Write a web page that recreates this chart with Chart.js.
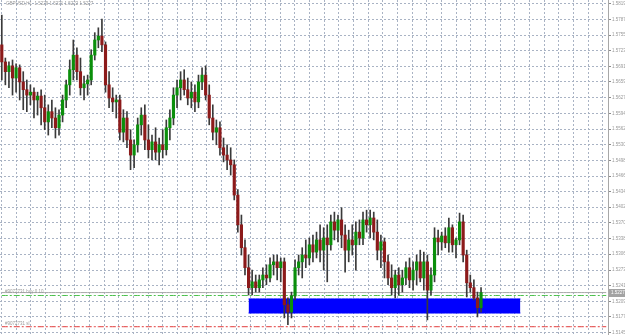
<!DOCTYPE html>
<html lang="en">
<head>
    <meta charset="UTF-8">
    <title>GBPUSD H1</title>
    <script src="https://cdn.jsdelivr.net/npm/chart.js"></script>
    <style>
        body { margin: 0; padding: 0; background: #ffffff; }
        canvas { display: block; }
    </style>
</head>
<body>

<canvas id="myChart" width="625" height="335"></canvas>

<script>
    // Candles (price values)
    const opens = [1.5735,1.5700,1.5680,1.5692,1.5667,1.5688,1.5659,1.5643,1.5632,1.5638,
        1.5622,1.5630,1.5606,1.5577,1.5598,1.5585,1.5565,1.5591,1.5622,1.5653,
        1.5684,1.5714,1.5680,1.5647,1.5655,1.5663,1.5714,1.5745,1.5753,1.5735,
        1.5653,1.5626,1.5618,1.5622,1.5556,1.5585,1.5540,1.5509,1.5530,1.5571,
        1.5591,1.5540,1.5520,1.5536,1.5515,1.5530,1.5520,1.5565,1.5585,1.5632,
        1.5647,1.5663,1.5643,1.5626,1.5638,1.5618,1.5659,1.5673,1.5632,1.5585,
        1.5556,1.5565,1.5524,1.5509,1.5499,1.5489,1.5427,1.5366,1.5319,1.5278,
        1.5237,1.5249,1.5237,1.5253,1.5263,1.5257,1.5284,1.5290,1.5278,1.5290,
        1.5202,1.5187,1.5220,1.5278,1.5290,1.5304,1.5298,1.5325,1.5310,1.5335,
        1.5314,1.5339,1.5325,1.5372,1.5355,1.5376,1.5345,1.5314,1.5335,1.5325,
        1.5351,1.5339,1.5376,1.5366,1.5380,1.5351,1.5314,1.5331,1.5290,1.5257,
        1.5237,1.5263,1.5243,1.5257,1.5278,1.5253,1.5273,1.5290,1.5257,1.5290,
        1.5232,1.5263,1.5339,1.5331,1.5343,1.5329,1.5360,1.5325,1.5335,1.5372,
        1.5304,1.5247,1.5237,1.5216,1.5196];
    const highs = [1.5796,1.5708,1.5700,1.5704,1.5696,1.5694,1.5680,1.5663,1.5653,1.5647,
        1.5638,1.5643,1.5632,1.5612,1.5622,1.5606,1.5602,1.5632,1.5663,1.5704,
        1.5745,1.5729,1.5708,1.5671,1.5673,1.5725,1.5760,1.5770,1.5788,1.5741,
        1.5680,1.5647,1.5632,1.5632,1.5602,1.5598,1.5561,1.5540,1.5585,1.5606,
        1.5612,1.5571,1.5550,1.5565,1.5544,1.5561,1.5581,1.5602,1.5647,1.5663,
        1.5680,1.5684,1.5667,1.5659,1.5653,1.5673,1.5688,1.5692,1.5653,1.5612,
        1.5581,1.5577,1.5544,1.5530,1.5524,1.5499,1.5438,1.5386,1.5335,1.5304,
        1.5273,1.5263,1.5263,1.5278,1.5284,1.5298,1.5304,1.5304,1.5298,1.5298,
        1.5216,1.5228,1.5294,1.5304,1.5319,1.5335,1.5339,1.5345,1.5351,1.5366,
        1.5360,1.5366,1.5386,1.5392,1.5386,1.5401,1.5366,1.5355,1.5366,1.5372,
        1.5376,1.5392,1.5396,1.5396,1.5392,1.5376,1.5345,1.5339,1.5304,1.5284,
        1.5273,1.5278,1.5273,1.5290,1.5298,1.5290,1.5304,1.5314,1.5310,1.5304,
        1.5278,1.5360,1.5355,1.5351,1.5360,1.5380,1.5366,1.5339,1.5390,1.5386,
        1.5314,1.5263,1.5253,1.5228,1.5237];
    const lows = [1.5663,1.5653,1.5647,1.5632,1.5638,1.5622,1.5602,1.5598,1.5612,1.5585,
        1.5591,1.5571,1.5561,1.5550,1.5565,1.5544,1.5550,1.5577,1.5606,1.5632,
        1.5663,1.5663,1.5632,1.5622,1.5632,1.5653,1.5704,1.5729,1.5721,1.5638,
        1.5606,1.5598,1.5585,1.5540,1.5536,1.5524,1.5479,1.5483,1.5515,1.5550,
        1.5520,1.5503,1.5499,1.5499,1.5489,1.5503,1.5509,1.5540,1.5571,1.5606,
        1.5622,1.5632,1.5612,1.5606,1.5598,1.5606,1.5643,1.5622,1.5571,1.5540,
        1.5530,1.5509,1.5495,1.5479,1.5468,1.5417,1.5351,1.5304,1.5263,1.5222,
        1.5222,1.5228,1.5228,1.5237,1.5243,1.5249,1.5263,1.5253,1.5249,1.5175,
        1.5161,1.5175,1.5212,1.5263,1.5257,1.5278,1.5284,1.5290,1.5298,1.5290,
        1.5273,1.5249,1.5314,1.5335,1.5331,1.5319,1.5269,1.5290,1.5304,1.5273,
        1.5325,1.5325,1.5351,1.5339,1.5335,1.5294,1.5278,1.5257,1.5243,1.5222,
        1.5216,1.5222,1.5228,1.5243,1.5237,1.5232,1.5243,1.5249,1.5232,1.5171,
        1.5222,1.5249,1.5304,1.5314,1.5319,1.5310,1.5310,1.5298,1.5325,1.5290,
        1.5218,1.5228,1.5212,1.5177,1.5187];
    const closes = [1.5700,1.5680,1.5692,1.5667,1.5688,1.5659,1.5643,1.5632,1.5638,1.5622,
        1.5630,1.5606,1.5577,1.5598,1.5585,1.5565,1.5591,1.5622,1.5653,1.5684,
        1.5714,1.5680,1.5647,1.5655,1.5663,1.5714,1.5745,1.5753,1.5735,1.5653,
        1.5626,1.5618,1.5622,1.5556,1.5585,1.5540,1.5509,1.5530,1.5571,1.5591,
        1.5540,1.5520,1.5536,1.5515,1.5530,1.5520,1.5565,1.5585,1.5632,1.5647,
        1.5663,1.5643,1.5626,1.5638,1.5618,1.5659,1.5673,1.5632,1.5585,1.5556,
        1.5565,1.5524,1.5509,1.5499,1.5489,1.5427,1.5366,1.5319,1.5278,1.5237,
        1.5249,1.5237,1.5253,1.5263,1.5257,1.5284,1.5290,1.5278,1.5290,1.5202,
        1.5187,1.5220,1.5278,1.5290,1.5304,1.5298,1.5325,1.5310,1.5335,1.5314,
        1.5339,1.5325,1.5372,1.5355,1.5376,1.5345,1.5314,1.5335,1.5325,1.5351,
        1.5339,1.5376,1.5366,1.5380,1.5351,1.5314,1.5331,1.5290,1.5257,1.5237,
        1.5263,1.5243,1.5257,1.5278,1.5253,1.5273,1.5290,1.5257,1.5290,1.5232,
        1.5263,1.5339,1.5331,1.5343,1.5329,1.5360,1.5325,1.5335,1.5372,1.5304,
        1.5247,1.5237,1.5216,1.5196,1.5227];

    // Price axis labels
    const yTicks = [1.5819,1.5787,1.5755,1.5723,1.5691,1.5659,1.5627,1.5594,1.5562,1.5530,1.5498,
        1.5466,1.5434,1.5402,1.5370,1.5338,1.5306,1.5273,1.5241,1.5209,1.5177,1.5145];

    // Order lines and zone
    const bidPrice = 1.5227;
    const orderPrice = 1.5221;
    const stopPrice = 1.5157;
    const orderLabel = '#9072731 buy 0.10';
    const stopLabel = '#9072731 sl';
    const titleText = 'GBPUSD,H1  1.5229 1.5231 1.5222 1.5227';
    const zoneTop = 1.5214;
    const zoneBottom = 1.5185;
    const zoneFrom = 69;   // bar slot where the zone starts
    const zoneTo = 145;    // bar slot where the zone ends

    const SLOTS = 170;     // bar slots incl. the empty shift on the right
    const labels = Array.from({ length: SLOTS }, (_, i) => i);

    const upColor = '#0b8f0b';
    const downColor = '#8c1a1a';
    const gridColor = '#a9b3c4';
    const textColor = '#9a9a9a';
    const font = 'Liberation Sans';

    const bodyColors = opens.map((o, i) => closes[i] >= o ? upColor : downColor);
    const flat = v => labels.map(() => v);
    const zone = v => labels.map(i => (i >= zoneFrom && i <= zoneTo) ? v : null);

    const overlay = {
        id: 'overlay',
        afterDraw(chart) {
            const { ctx, chartArea, scales: { y } } = chart;
            ctx.save();
            ctx.font = '4.5px "' + font + '"';
            ctx.fillStyle = textColor;
            ctx.textBaseline = 'middle';
            ctx.fillText(titleText, 6, 4);
            ctx.textBaseline = 'bottom';
            ctx.fillText(orderLabel, 5, y.getPixelForValue(orderPrice) - 1);
            ctx.fillText(stopLabel, 5, y.getPixelForValue(stopPrice) - 1);

            // current price box on the axis
            const py = Math.round(y.getPixelForValue(bidPrice));
            ctx.fillStyle = '#a3a3a3';
            ctx.fillRect(chartArea.right + 1, py - 4, 17, 8);
            ctx.fillStyle = '#ffffff';
            ctx.textBaseline = 'middle';
            ctx.fillText(bidPrice.toFixed(4), chartArea.right + 3, py);
            ctx.restore();
        }
    };

    const ctx = document.getElementById('myChart').getContext('2d');
    const myChart = new Chart(ctx, {
        type: 'bar',
        data: {
            labels: labels,
            datasets: [
                {
                    type: 'line', label: 'zoneTop', data: zone(zoneTop),
                    borderColor: '#0000ff', borderWidth: 1, pointRadius: 0,
                    fill: false, order: 20
                },
                {
                    type: 'line', label: 'zoneBottom', data: zone(zoneBottom),
                    borderColor: '#0000ff', borderWidth: 1, pointRadius: 0,
                    backgroundColor: '#0000ff', fill: '-1', order: 20
                },
                {
                    type: 'line', label: 'bid', data: flat(bidPrice),
                    borderColor: '#a8a8a8', borderWidth: 1, pointRadius: 0, order: 15
                },
                {
                    type: 'line', label: 'order', data: flat(orderPrice),
                    borderColor: '#4cc14c', borderWidth: 1, borderDash: [6, 2, 2, 2],
                    pointRadius: 0, order: 14
                },
                {
                    type: 'line', label: 'stop', data: flat(stopPrice),
                    borderColor: '#e03c3c', borderWidth: 1, borderDash: [6, 2, 2, 2],
                    pointRadius: 0, order: 14
                },
                {
                    label: 'wicks',
                    data: lows.map((l, i) => [l, highs[i]]),
                    backgroundColor: '#3a3a3a',
                    barThickness: 1, grouped: false, order: 2
                },
                {
                    label: 'bodies',
                    data: opens.map((o, i) => [o, closes[i]]),
                    backgroundColor: bodyColors,
                    barThickness: 2.5, minBarLength: 1, grouped: false, order: 1
                }
            ]
        },
        options: {
            responsive: false,
            animation: false,
            devicePixelRatio: 1,
            layout: { padding: 0, autoPadding: false },
            plugins: {
                legend: { display: false },
                tooltip: { enabled: false }
            },
            scales: {
                x: {
                    display: false,
                    offset: true
                },
                x2: {
                    type: 'linear',
                    position: 'bottom',
                    min: -0.1,
                    max: 40.35,
                    afterBuildTicks: s => { s.ticks = Array.from({ length: 41 }, (_, k) => ({ value: k })); },
                    afterFit: s => { s.height = 0; s.paddingLeft = 0; s.paddingRight = 0; },
                    ticks: { display: false },
                    grid: { color: gridColor, drawTicks: false },
                    border: { display: false, dash: [2, 2] }
                },
                y: {
                    position: 'right',
                    min: 1.5140,
                    max: 1.5827,
                    afterBuildTicks: s => { s.ticks = yTicks.map(v => ({ value: v })); },
                    afterFit: s => { s.width = 17; s.paddingTop = 0; s.paddingBottom = 0; },
                    ticks: {
                        autoSkip: false,
                        padding: 1,
                        color: textColor,
                        font: { family: font, size: 4.5 },
                        callback: v => v.toFixed(4)
                    },
                    grid: { color: gridColor, tickColor: '#8a8a8a', tickLength: 3 },
                    border: { display: true, color: '#a8a8a8', width: 1, dash: [2, 2] }
                }
            }
        },
        plugins: [overlay]
    });
</script>

</body>
</html>
